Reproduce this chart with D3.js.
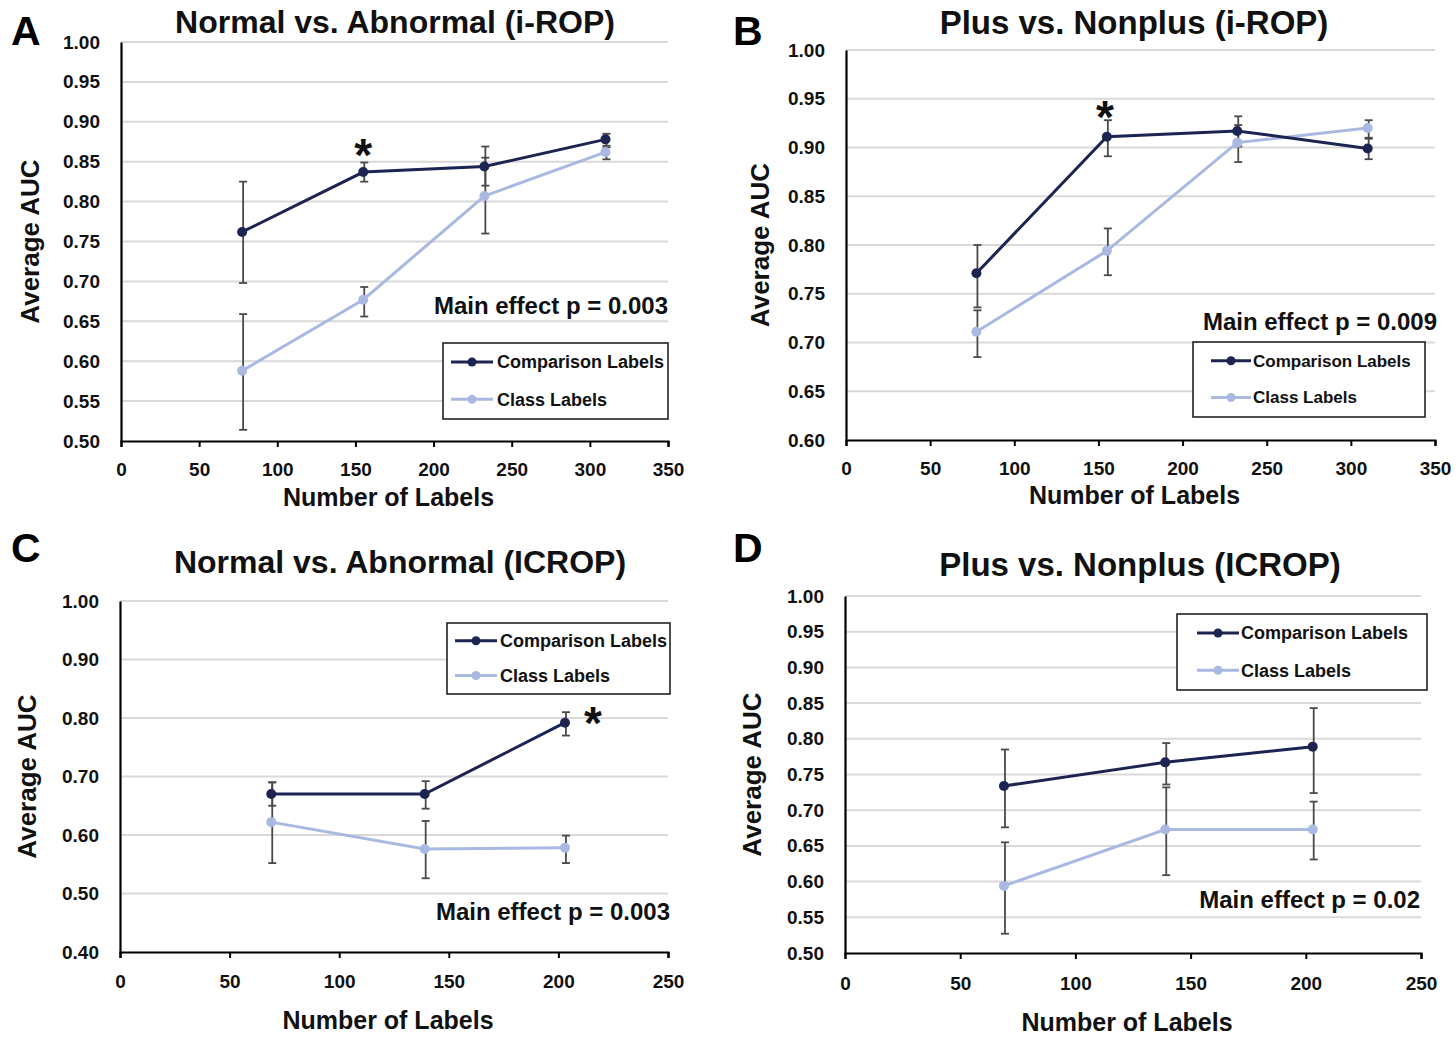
<!DOCTYPE html>
<html>
<head>
<meta charset="utf-8">
<script src="https://cdn.jsdelivr.net/npm/d3@7"></script>
<style>
  html, body { margin: 0; padding: 0; background: #fff; }
  svg { display: block; }
  .cf { font-family: "Liberation Sans", Arial, sans-serif; font-weight: bold; }
</style>
</head>
<body>
<svg id="chart" width="1456" height="1037"></svg>
<script>
// ---------- DATA ----------
const seriesNames = ["Comparison Labels", "Class Labels"];

// Panel A: Normal vs. Abnormal (i-ROP)
const xA = [77.5, 155, 232.5, 310];
const compA = [0.762, 0.837, 0.844, 0.878];
const compA_lo = [0.698, 0.825, 0.820, 0.870];
const compA_hi = [0.825, 0.849, 0.869, 0.885];
const classA = [0.588, 0.677, 0.807, 0.862];
const classA_lo = [0.514, 0.656, 0.760, 0.853];
const classA_hi = [0.659, 0.693, 0.855, 0.868];

// Panel B: Plus vs. Nonplus (i-ROP)
const xB = [77.5, 155, 232.5, 310];
const compB = [0.771, 0.911, 0.917, 0.899];
const compB_lo = [0.736, 0.891, 0.901, 0.888];
const compB_hi = [0.800, 0.928, 0.932, 0.909];
const classB = [0.711, 0.794, 0.905, 0.920];
const classB_lo = [0.685, 0.769, 0.885, 0.910];
const classB_hi = [0.733, 0.817, 0.923, 0.928];

// Panel C: Normal vs. Abnormal (ICROP)
const xC = [69, 139, 203];
const compC = [0.670, 0.670, 0.792];
const compC_lo = [0.650, 0.645, 0.770];
const compC_hi = [0.690, 0.692, 0.810];
const classC = [0.622, 0.576, 0.578];
const classC_lo = [0.552, 0.526, 0.552];
const classC_hi = [0.690, 0.624, 0.599];

// Panel D: Plus vs. Nonplus (ICROP)
const xD = [69, 139, 203];
const compD = [0.734, 0.767, 0.789];
const compD_lo = [0.676, 0.736, 0.724];
const compD_hi = [0.785, 0.794, 0.843];
const classD = [0.594, 0.673, 0.673];
const classD_lo = [0.527, 0.609, 0.631];
const classD_hi = [0.655, 0.732, 0.712];

// Tick values
const xTicksIROP = [0, 50, 100, 150, 200, 250, 300, 350];
const xTicksICROP = [0, 50, 100, 150, 200, 250];
const yTicksA = [0.50, 0.55, 0.60, 0.65, 0.70, 0.75, 0.80, 0.85, 0.90, 0.95, 1.00];
const yTicksB = [0.60, 0.65, 0.70, 0.75, 0.80, 0.85, 0.90, 0.95, 1.00];
const yTicksC = [0.40, 0.50, 0.60, 0.70, 0.80, 0.90, 1.00];
const yTicksD = [0.50, 0.55, 0.60, 0.65, 0.70, 0.75, 0.80, 0.85, 0.90, 0.95, 1.00];

const titles = ["Normal vs. Abnormal (i-ROP)", "Plus vs. Nonplus (i-ROP)", "Normal vs. Abnormal (ICROP)", "Plus vs. Nonplus (ICROP)"];
const panelLetters = ["A", "B", "C", "D"];
const mainEffects = ["Main effect p = 0.003", "Main effect p = 0.009", "Main effect p = 0.003", "Main effect p = 0.02"];
// index of the point carrying a significance asterisk (-1 for none)
const starIndex = [1, 1, 2, -1];

// ---------- STYLE / LAYOUT ----------
const colComp = "#1c2452";
const colClass = "#a9b9e2";
const colErr = "#4a4a4a";
const colGrid = "#d9d9d9";

const panels = [
  { letter: panelLetters[0], title: titles[0], effect: mainEffects[0], star: starIndex[0],
    x: xA, comp: compA, compLo: compA_lo, compHi: compA_hi, cls: classA, clsLo: classA_lo, clsHi: classA_hi,
    xDom: [0, 350], yDom: [0.5, 1.0], xTicks: xTicksIROP, yTicks: yTicksA, yFmt: ".2f",
    L: 121, R: 668, T: 42, B: 441, titleSize: 32,
    letterPos: [11, 45], titlePos: [395, 33], yTitleX: 30, xTitleDy: 65, xLabDy: 36,
    effectPos: [668, 314], legend: [443, 343, 225, 76], legLine: [8, 50], legText: 54, legSize: 18,
    starDy: -27, starDx: 0 },
  { letter: panelLetters[1], title: titles[1], effect: mainEffects[1], star: starIndex[1],
    x: xB, comp: compB, compLo: compB_lo, compHi: compB_hi, cls: classB, clsLo: classB_lo, clsHi: classB_hi,
    xDom: [0, 350], yDom: [0.6, 1.0], xTicks: xTicksIROP, yTicks: yTicksB, yFmt: ".2f",
    L: 846, R: 1435, T: 50, B: 440, titleSize: 33,
    letterPos: [733, 45], titlePos: [1134, 34], yTitleX: 760, xTitleDy: 64, xLabDy: 36,
    effectPos: [1437, 330], legend: [1193, 342, 232, 75], legLine: [18, 58], legText: 60, legSize: 17,
    starDy: -30, starDx: -2 },
  { letter: panelLetters[2], title: titles[2], effect: mainEffects[2], star: starIndex[2],
    x: xC, comp: compC, compLo: compC_lo, compHi: compC_hi, cls: classC, clsLo: classC_lo, clsHi: classC_hi,
    xDom: [0, 250], yDom: [0.4, 1.0], xTicks: xTicksICROP, yTicks: yTicksC, yFmt: ".2f",
    L: 120, R: 668, T: 601, B: 952, titleSize: 32,
    letterPos: [11, 562], titlePos: [400, 573], yTitleX: 27, xTitleDy: 77, xLabDy: 37,
    effectPos: [670, 920], legend: [447, 623, 223, 71], legLine: [8, 50], legText: 53, legSize: 18,
    starDy: -10, starDx: 28 },
  { letter: panelLetters[3], title: titles[3], effect: mainEffects[3], star: starIndex[3],
    x: xD, comp: compD, compLo: compD_lo, compHi: compD_hi, cls: classD, clsLo: classD_lo, clsHi: classD_hi,
    xDom: [0, 250], yDom: [0.5, 1.0], xTicks: xTicksICROP, yTicks: yTicksD, yFmt: ".2f",
    L: 845, R: 1421, T: 596, B: 953, titleSize: 33,
    letterPos: [733, 562], titlePos: [1140, 576], yTitleX: 752, xTitleDy: 78, xLabDy: 38,
    effectPos: [1420, 908], legend: [1177, 614, 250, 76], legLine: [20, 62], legText: 64, legSize: 18,
    starDy: -24, starDx: 0 }
];

const svg = d3.select("#chart");
svg.append("rect").attr("width", 1456).attr("height", 1037).attr("fill", "#fff");

panels.forEach(p => {
  const g = svg.append("g");
  const xs = d3.scaleLinear().domain(p.xDom).range([p.L, p.R]);
  const ys = d3.scaleLinear().domain(p.yDom).range([p.B, p.T]);

  // gridlines
  g.append("g").selectAll("line").data(p.yTicks.filter(v => v > p.yDom[0] + 1e-9)).join("line")
    .attr("x1", p.L).attr("x2", p.R)
    .attr("y1", d => ys(d)).attr("y2", d => ys(d))
    .attr("stroke", colGrid).attr("stroke-width", 2);

  // y axis (labels + line, no ticks)
  const yAxis = d3.axisLeft(ys).tickValues(p.yTicks).tickFormat(d3.format(p.yFmt)).tickSize(0).tickPadding(21);
  const yg = g.append("g").attr("transform", `translate(${p.L},0)`).call(yAxis);
  yg.select(".domain").attr("stroke", "#000").attr("stroke-width", 2.2);
  yg.selectAll("text").attr("class", "cf").attr("font-size", 19).attr("fill", "#111");

  // x axis
  const xAxis = d3.axisBottom(xs).tickValues(p.xTicks).tickFormat(d3.format("d")).tickSize(6).tickSizeOuter(6).tickPadding(p.xLabDy - 20);
  const xg = g.append("g").attr("transform", `translate(0,${p.B})`).call(xAxis);
  xg.select(".domain").attr("stroke", "#000").attr("stroke-width", 2.2);
  xg.selectAll(".tick line").attr("stroke", "#000").attr("stroke-width", 2);
  xg.selectAll("text").attr("class", "cf").attr("font-size", 19).attr("fill", "#111");

  const series = [
    { v: p.comp, lo: p.compLo, hi: p.compHi, c: colComp },
    { v: p.cls, lo: p.clsLo, hi: p.clsHi, c: colClass }
  ];

  // error bars
  series.forEach(s => {
    const eb = g.append("g");
    p.x.forEach((xv, i) => {
      const cx = xs(xv) + 1;
      eb.append("line").attr("x1", cx).attr("x2", cx).attr("y1", ys(s.lo[i])).attr("y2", ys(s.hi[i]))
        .attr("stroke", colErr).attr("stroke-width", 1.8);
      [s.lo[i], s.hi[i]].forEach(e => {
        eb.append("line").attr("x1", cx - 4).attr("x2", cx + 4).attr("y1", ys(e)).attr("y2", ys(e))
          .attr("stroke", colErr).attr("stroke-width", 1.8);
      });
    });
  });

  // lines and markers (class first, comparison on top)
  [series[1], series[0]].forEach(s => {
    const line = d3.line().x((d, i) => xs(p.x[i])).y(d => ys(d));
    g.append("path").datum(s.v).attr("d", line).attr("fill", "none")
      .attr("stroke", s.c).attr("stroke-width", 3);
    g.append("g").selectAll("circle").data(s.v).join("circle")
      .attr("cx", (d, i) => xs(p.x[i])).attr("cy", d => ys(d)).attr("r", 5)
      .attr("fill", s.c);
  });

  // asterisk
  if (p.star >= 0) {
    const size = 46;
    const sx = xs(p.x[p.star]) + p.starDx;
    const sy = ys(p.comp[p.star]) + p.starDy;
    g.append("text").attr("x", sx).attr("y", sy + size * 0.57).attr("text-anchor", "middle")
      .attr("font-family", "Liberation Sans, Arial, sans-serif").attr("font-weight", "bold")
      .attr("font-size", size).attr("fill", "#111").text("*");
  }

  // title
  g.append("text").attr("class", "cf").attr("x", p.titlePos[0]).attr("y", p.titlePos[1])
    .attr("text-anchor", "middle").attr("font-size", p.titleSize).attr("fill", "#111").text(p.title);

  // panel letter
  g.append("text").attr("x", p.letterPos[0]).attr("y", p.letterPos[1])
    .attr("font-family", "Liberation Sans, Arial, sans-serif").attr("font-weight", "bold")
    .attr("font-size", 41).attr("fill", "#000").text(p.letter);

  // axis titles
  g.append("text").attr("class", "cf").attr("x", (p.L + p.R) / 2 - 6).attr("y", p.B + p.xTitleDy)
    .attr("text-anchor", "middle").attr("font-size", 25).attr("fill", "#111").text("Number of Labels");
  g.append("text").attr("class", "cf")
    .attr("transform", `translate(${p.yTitleX + 9},${(p.T + p.B) / 2}) rotate(-90)`)
    .attr("text-anchor", "middle").attr("font-size", 26).attr("fill", "#111").text("Average AUC");

  // main effect
  g.append("text").attr("class", "cf").attr("x", p.effectPos[0]).attr("y", p.effectPos[1])
    .attr("text-anchor", "end").attr("font-size", 24).attr("fill", "#111").text(p.effect);

  // legend
  const [lx, ly, lw, lh] = p.legend;
  const lg = g.append("g");
  lg.append("rect").attr("x", lx).attr("y", ly).attr("width", lw).attr("height", lh)
    .attr("fill", "#fff").attr("stroke", "#222").attr("stroke-width", 1.6);
  const rowY = [ly + lh * 0.25, ly + lh * 0.74];
  series.forEach((s, i) => {
    lg.append("line").attr("x1", lx + p.legLine[0]).attr("x2", lx + p.legLine[1]).attr("y1", rowY[i]).attr("y2", rowY[i])
      .attr("stroke", s.c).attr("stroke-width", 3);
    lg.append("circle").attr("cx", lx + (p.legLine[0] + p.legLine[1]) / 2).attr("cy", rowY[i]).attr("r", 4.5).attr("fill", s.c);
    lg.append("text").attr("class", "cf").attr("x", lx + p.legText).attr("y", rowY[i]).attr("dy", "0.35em")
      .attr("font-size", p.legSize).attr("fill", "#111").text(seriesNames[i]);
  });
});
</script>
</body>
</html>
